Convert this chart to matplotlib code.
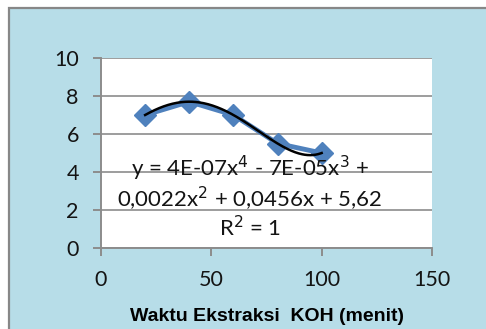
import matplotlib.pyplot as plt
import matplotlib.patches as patches
import numpy as np

# extraction time (minutes) vs measured value
waktu = [20, 40, 60, 80, 100]
nilai = [7.0, 7.7, 7.0, 5.5, 5.0]

x_ticks = [0, 50, 100, 150]
y_ticks = [0, 2, 4, 6, 8, 10]
persamaan = "y = 4E-07x$^4$ - 7E-05x$^3$ +\n0,0022x$^2$ + 0,0456x + 5,62\nR$^2$ = 1"

W, H = 486, 329
fig = plt.figure(figsize=(W / 100, H / 100), dpi=100)
fig.patch.set_facecolor("white")

# chart area background with grey frame
bg = patches.Rectangle((9 / W, -0.05), 1.1, 1 - 8 / H + 0.05, transform=fig.transFigure,
                       facecolor="#B7DDE8", edgecolor="#878787", linewidth=1.6, zorder=-10)
fig.patches.append(bg)

ax = fig.add_axes([101 / W, 1 - 248 / H, 331 / W, 190 / H])
ax.set_facecolor("white")
ax.set_xlim(0, 150)
ax.set_ylim(0, 10)
ax.set_xticks(x_ticks)
ax.set_yticks(y_ticks)
ax.grid(axis="y", color="#8C8C8C", linewidth=1.2)
ax.set_axisbelow(True)
for s in ["top", "right"]:
    ax.spines[s].set_visible(False)
for s in ["left", "bottom"]:
    ax.spines[s].set_color("#8C8C8C")
    ax.spines[s].set_linewidth(1.4)
ax.tick_params(axis="both", color="#8C8C8C", width=1.4, length=6, labelsize=15.5,
               labelcolor="#141414")
ax.tick_params(axis="x", pad=10)
ax.tick_params(axis="y", pad=10)
for lab in ax.get_xticklabels() + ax.get_yticklabels():
    lab.set_family("Lato")

ax.plot(waktu, nilai, color="#4F81BD", linewidth=3.5, marker="D", markersize=11,
        markerfacecolor="#4F81BD", markeredgecolor="#4F81BD", zorder=3)

# 4th order polynomial trendline
koef = np.polyfit(waktu, nilai, 4)
xs = np.linspace(min(waktu), max(waktu), 200)
ax.plot(xs, np.polyval(koef, xs), color="black", linewidth=1.8, zorder=4)

ax.text(0.45, 0.268, persamaan, transform=ax.transAxes, ha="center", va="center",
        fontsize=16, family="Lato", color="#141414", linespacing=1.1, zorder=5)

ax.set_xlabel("Waktu Ekstraksi  KOH (menit)", fontsize=14, fontweight="bold",
              family="Liberation Sans", labelpad=13)

fig.savefig("out.png", dpi=100)
